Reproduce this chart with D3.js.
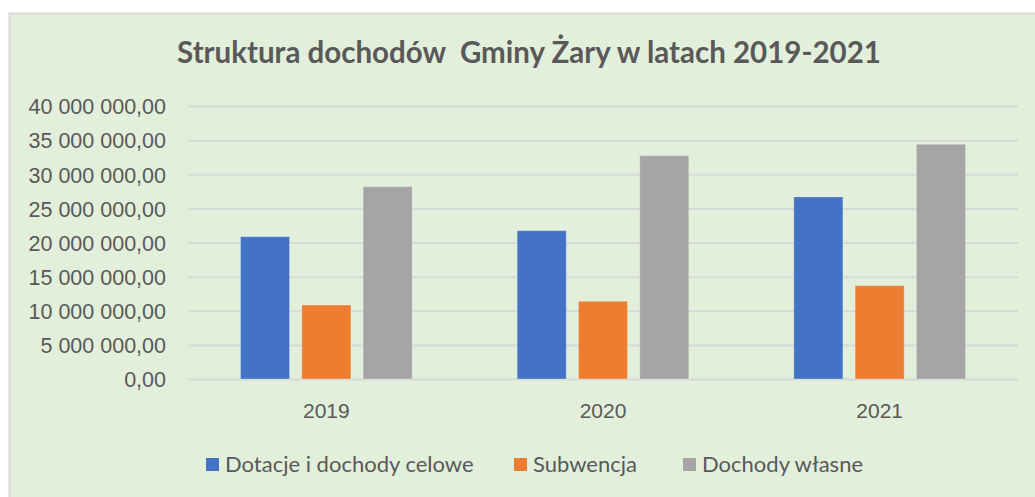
<!DOCTYPE html>
<html>
<head>
<meta charset="utf-8">
<script src="https://cdn.jsdelivr.net/npm/d3@7"></script>
<style>
  body { margin: 0; background: #ffffff; }
  svg { display: block; font-family: Lato, "Open Sans", sans-serif; }
</style>
</head>
<body>
<div id="chart"></div>
<script>
// =======================
// DATA
// =======================
const years = ['2019', '2020', '2021'];
const seriesNames = ['Dotacje i dochody celowe', 'Subwencja', 'Dochody własne'];
const dotacje = [20850000, 21730000, 26670000];
const subwencja = [10840000, 11380000, 13670000];
const dochodyWlasne = [28180000, 32720000, 34390000];
const yTicks = [0, 5000000, 10000000, 15000000, 20000000, 25000000, 30000000, 35000000, 40000000];
const colors = ['#4472c4', '#ed7d31', '#a5a5a5'];

const seriesValues = [dotacje, subwencja, dochodyWlasne];
const rows = years.map((year, i) => ({
  year,
  values: seriesNames.map((name, s) => ({ name, value: seriesValues[s][i], color: colors[s] }))
}));

// =======================
// SVG SETUP
// =======================
const width = 1035;
const height = 497;

const svg = d3.select('#chart')
  .append('svg')
  .attr('width', width)
  .attr('height', height);

svg.append('rect')
  .attr('x', 9.5)
  .attr('y', 13.5)
  .attr('width', width + 20)
  .attr('height', height + 20)
  .attr('fill', '#e2efda')
  .attr('stroke', '#d9d9d9')
  .attr('stroke-width', 2);

const plot = { left: 188, right: 1018, top: 106, bottom: 379 };

// =======================
// SCALES
// =======================
const x0 = d3.scaleBand()
  .domain(years)
  .range([plot.left, plot.right])
  .padding(0);

const x1 = d3.scaleBand()
  .domain(seriesNames)
  .range([0, x0.bandwidth()])
  .paddingInner(0.2)
  .paddingOuter(0.857);

const y = d3.scaleLinear()
  .domain([0, 40000000])
  .range([plot.bottom, plot.top]);

const pl = d3.formatLocale({ decimal: ',', thousands: '\u00a0', grouping: [3], currency: ['', ''] });
const fmt = pl.format(',.2f');

// =======================
// GRIDLINES AND Y LABELS
// =======================
const yAxis = svg.append('g')
  .attr('transform', `translate(${plot.left},0)`)
  .call(d3.axisLeft(y)
    .tickValues(yTicks)
    .tickSize(-(plot.right - plot.left))
    .tickPadding(22)
    .tickFormat(fmt));

yAxis.select('.domain').remove();
yAxis.selectAll('.tick line')
  .attr('stroke', '#d6d9d4')
  .attr('stroke-width', 2);
yAxis.selectAll('.tick text')
  .attr('fill', '#595959')
  .attr('dy', '0.36em')
  .style('font-size', '21.5px');

// =======================
// BARS
// =======================
const groups = svg.append('g')
  .selectAll('g')
  .data(rows)
  .join('g')
  .attr('transform', d => `translate(${x0(d.year)},0)`);

groups.selectAll('rect')
  .data(d => d.values)
  .join('rect')
  .attr('x', d => x1(d.name))
  .attr('y', d => y(d.value))
  .attr('width', x1.bandwidth())
  .attr('height', d => y(0) - y(d.value))
  .attr('fill', d => d.color)
  .attr('stroke', 'rgba(255,255,255,0.25)')
  .attr('stroke-width', 1);

// =======================
// X LABELS
// =======================
const xAxis = svg.append('g')
  .attr('transform', `translate(0,${plot.bottom})`)
  .call(d3.axisBottom(x0).tickSize(0).tickPadding(24));

xAxis.select('.domain').remove();
xAxis.selectAll('.tick text')
  .attr('fill', '#595959')
  .style('font-size', '21px');

// =======================
// TITLE
// =======================
svg.append('text')
  .attr('x', 529)
  .attr('y', 63)
  .attr('text-anchor', 'middle')
  .attr('fill', '#595959')
  .style('font-size', '29.5px')
  .style('font-weight', '700')
  .style('white-space', 'pre')
  .text('Struktura dochodów  Gminy Żary w latach 2019-2021');

// =======================
// LEGEND
// =======================
const legendX = [206, 514, 683];
const legend = svg.append('g')
  .selectAll('g')
  .data(seriesNames)
  .join('g')
  .attr('transform', (d, i) => `translate(${legendX[i]},458)`);

legend.append('rect')
  .attr('width', 13)
  .attr('height', 13)
  .attr('fill', (d, i) => colors[i]);

legend.append('text')
  .attr('x', 19)
  .attr('y', 13.5)
  .attr('fill', '#595959')
  .style('font-size', '22px')
  .text(d => d);
</script>
</body>
</html>
